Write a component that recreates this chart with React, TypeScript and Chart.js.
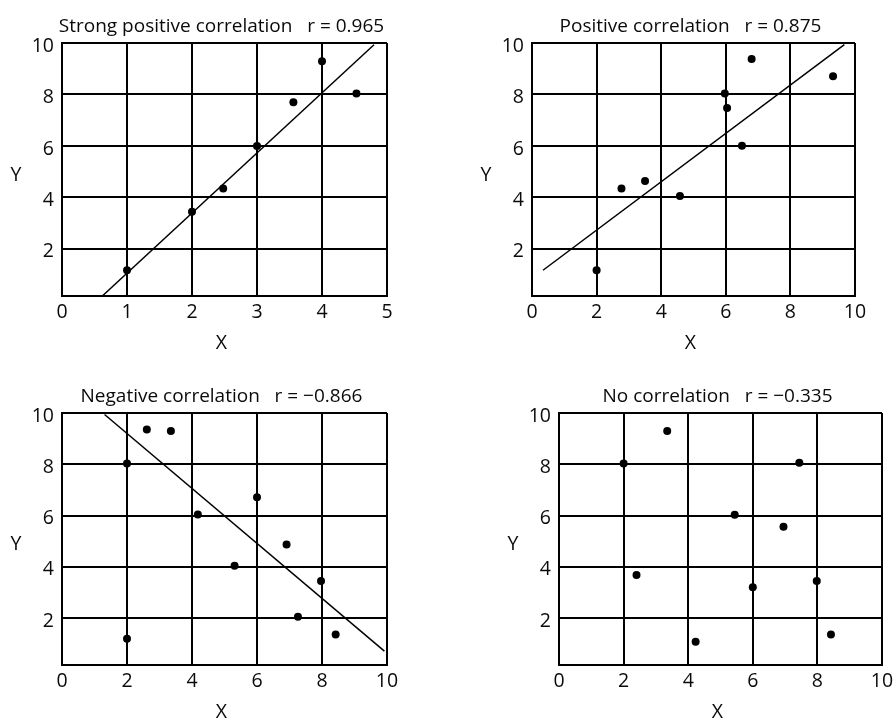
import React, { useEffect, useRef } from "react";
import { Chart, registerables } from "chart.js";

Chart.register(...registerables);

const INK = "#000000";
const TEXT = "#0a0a0a";
const FONT = '"Open Sans", "DejaVu Sans", sans-serif';

// Shared axis ticks
const yTickValues = [2, 4, 6, 8, 10];
const xTicksToFive = [0, 1, 2, 3, 4, 5];
const xTicksToTen = [0, 2, 4, 6, 8, 10];
const Y_MIN = 0.17;

// Strong positive correlation, r = 0.965
const strongX = [1, 2, 2.48, 3, 3.56, 4, 4.53];
const strongY = [1.17, 3.44, 4.35, 6.0, 7.7, 9.29, 8.04];
const strongFitX = [0.62, 4.8];
const strongFitY = [0.17, 9.93];

// Positive correlation, r = 0.875
const positiveX = [2, 2.77, 3.5, 4.58, 5.97, 6.04, 6.5, 6.8, 9.32];
const positiveY = [1.17, 4.35, 4.64, 4.06, 8.04, 7.47, 6.01, 9.38, 8.71];
const positiveFitX = [0.34, 9.67];
const positiveFitY = [1.17, 9.94];

// Negative correlation, r = -0.866
const negativeX = [2, 2, 2.61, 3.35, 4.18, 5.31, 6, 6.91, 7.26, 7.97, 8.42];
const negativeY = [8.03, 1.19, 9.36, 9.3, 6.04, 4.04, 6.71, 4.87, 2.05, 3.45, 1.36];
const negativeFitX = [1.31, 9.92];
const negativeFitY = [9.94, 0.71];

// No correlation, r = -0.335
const noneX = [2, 2.4, 3.35, 4.23, 5.44, 6, 6.95, 7.44, 7.98, 8.42];
const noneY = [8.03, 3.68, 9.3, 1.08, 6.03, 3.2, 5.56, 8.06, 3.45, 1.36];

type Box = { left: number; top: number; right: number; bottom: number };

type PanelProps = {
  left: number;
  top: number;
  width: number;
  height: number;
  area: Box;
  title: string;
  xs: number[];
  ys: number[];
  fitX?: number[];
  fitY?: number[];
  xMax: number;
  xTicks: number[];
};

// Draws the panel heading and the upright "X" / "Y" axis letters
const captions = {
  id: "captions",
  afterDraw(chart: any, _args: any, opts: any) {
    const { ctx, chartArea: a } = chart;
    const cx = (a.left + a.right) / 2 - 3;
    ctx.save();
    ctx.fillStyle = TEXT;
    ctx.textAlign = "center";
    ctx.textBaseline = "alphabetic";
    ctx.font = `19px ${FONT}`;
    ctx.fillText(opts.title, cx, a.top - 11);
    ctx.font = `19.5px ${FONT}`;
    ctx.fillText("Y", a.left - 46, (a.top + a.bottom) / 2 + 11);
    ctx.fillText("X", cx, a.bottom + 53);
    ctx.restore();
  },
};

function Panel(p: PanelProps) {
  const ref = useRef<HTMLCanvasElement>(null);

  useEffect(() => {
    const canvas = ref.current;
    if (!canvas) return;
    const datasets: any[] = [];
    if (p.fitX && p.fitY) {
      datasets.push({
        data: p.fitX.map((x, i) => ({ x, y: p.fitY![i] })),
        showLine: true,
        borderColor: INK,
        borderWidth: 1.5,
        pointRadius: 0,
        pointHoverRadius: 0,
      });
    }
    datasets.push({
      data: p.xs.map((x, i) => ({ x, y: p.ys[i] })),
      showLine: false,
      pointRadius: 4,
      pointHoverRadius: 4,
      backgroundColor: INK,
      borderColor: INK,
      borderWidth: 0,
    });

    const gridStyle = { color: INK, lineWidth: 2, drawTicks: false };
    const borderStyle = { color: INK, width: 2 };
    const tickFont = { family: FONT, size: 19.5 };

    const chart = new Chart(canvas, {
      type: "scatter",
      data: { datasets },
      options: {
        animation: false,
        responsive: false,
        maintainAspectRatio: false,
        events: [],
        layout: {
          padding: {
            left: 0,
            top: p.area.top,
            right: p.width - p.area.right,
            bottom: 0,
          },
        },
        plugins: {
          legend: { display: false },
          tooltip: { enabled: false },
          title: { display: false },
          captions: { title: p.title },
        } as any,
        scales: {
          x: {
            type: "linear",
            min: 0,
            max: p.xMax,
            afterBuildTicks: (s: any) => {
              s.ticks = p.xTicks.map((v) => ({ value: v }));
            },
            afterFit: (s: any) => {
              s.height = p.height - p.area.bottom;
              s.paddingLeft = 0;
              s.paddingRight = 0;
            },
            grid: gridStyle,
            border: borderStyle,
            ticks: {
              color: TEXT,
              font: tickFont,
              padding: 5,
              maxRotation: 0,
              autoSkip: false,
            },
          },
          y: {
            type: "linear",
            min: Y_MIN,
            max: 10,
            afterBuildTicks: (s: any) => {
              s.ticks = yTickValues.map((v) => ({ value: v }));
            },
            afterFit: (s: any) => {
              s.width = p.area.left;
              s.paddingTop = 0;
              s.paddingBottom = 0;
            },
            grid: gridStyle,
            border: borderStyle,
            ticks: {
              color: TEXT,
              font: tickFont,
              padding: 8,
              labelOffset: 3,
              autoSkip: false,
            },
          },
        },
      } as any,
      plugins: [captions],
    });
    return () => chart.destroy();
  }, []);

  return (
    <canvas
      ref={ref}
      width={p.width}
      height={p.height}
      style={{
        position: "absolute",
        left: p.left,
        top: p.top,
        width: p.width,
        height: p.height,
      }}
    />
  );
}

export default function App() {
  return (
    <div
      style={{
        position: "absolute",
        left: 0,
        top: 0,
        width: 893,
        height: 720,
        background: "#ffffff",
        overflow: "hidden",
      }}
    >
      <Panel
        left={0}
        top={0}
        width={446}
        height={360}
        area={{ left: 62, top: 43, right: 387, bottom: 296 }}
        title="Strong positive correlation   r = 0.965"
        xs={strongX}
        ys={strongY}
        fitX={strongFitX}
        fitY={strongFitY}
        xMax={5}
        xTicks={xTicksToFive}
      />
      <Panel
        left={446}
        top={0}
        width={447}
        height={360}
        area={{ left: 86, top: 43, right: 409, bottom: 296 }}
        title="Positive correlation   r = 0.875"
        xs={positiveX}
        ys={positiveY}
        fitX={positiveFitX}
        fitY={positiveFitY}
        xMax={10}
        xTicks={xTicksToTen}
      />
      <Panel
        left={0}
        top={360}
        width={446}
        height={360}
        area={{ left: 62, top: 53, right: 387, bottom: 305 }}
        title="Negative correlation   r = −0.866"
        xs={negativeX}
        ys={negativeY}
        fitX={negativeFitX}
        fitY={negativeFitY}
        xMax={10}
        xTicks={xTicksToTen}
      />
      <Panel
        left={446}
        top={360}
        width={447}
        height={360}
        area={{ left: 113, top: 53, right: 436, bottom: 305 }}
        title="No correlation   r = −0.335"
        xs={noneX}
        ys={noneY}
        xMax={10}
        xTicks={xTicksToTen}
      />
    </div>
  );
}
